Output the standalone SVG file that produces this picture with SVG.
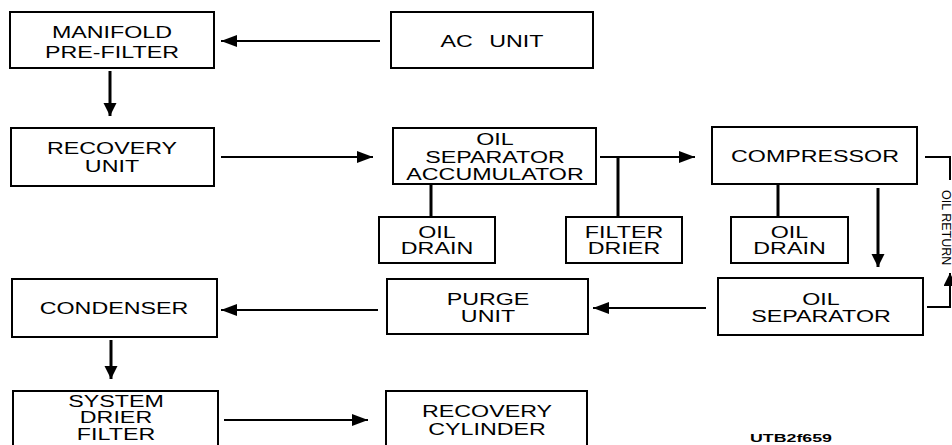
<svg xmlns="http://www.w3.org/2000/svg" width="952" height="445" viewBox="0 0 952 445">
<defs>
<style>
.box{fill:#fff;stroke:#000;stroke-width:2}
.t{font-family:"Liberation Sans",Arial,sans-serif;font-size:16.5px;text-anchor:middle;fill:#000}
.ln{fill:none;stroke:#000;stroke-width:2}
.lv{fill:none;stroke:#000;stroke-width:3}
.small{font-family:"Liberation Sans",Arial,sans-serif;font-size:12.5px;fill:#000}
.code{font-family:"Liberation Sans",Arial,sans-serif;font-size:11px;font-weight:bold;fill:#000}
</style>
<marker id="ah" markerUnits="userSpaceOnUse" markerWidth="17" markerHeight="12" refX="16" refY="6" orient="auto">
<path d="M0,0 L16,6 L0,12 Z" fill="#000"/>
</marker>
<marker id="av" markerUnits="userSpaceOnUse" markerWidth="14" markerHeight="14" refX="13" refY="6.5" orient="auto">
<path d="M0,0 L13,6.5 L0,13 Z" fill="#000"/>
</marker>
</defs>
<rect width="952" height="445" fill="#fff"/>

<g id="connectors">
<path class="ln" d="M380,41 H221" marker-end="url(#ah)"/>
<path class="lv" d="M110,71 V116" marker-end="url(#av)"/>
<path class="ln" d="M221,157 H373" marker-end="url(#ah)"/>
<path class="ln" d="M600,157 H695" marker-end="url(#ah)"/>
<path class="lv" d="M618,157 V217"/>
<path class="lv" d="M431,184 V217"/>
<path class="lv" d="M778,184 V217"/>
<path class="lv" d="M878,188 V267" marker-end="url(#av)"/>
<path class="ln" d="M925,157 H950 V180"/>
<path class="ln" d="M927,307 H950 V273" marker-end="url(#av)"/>
<path class="ln" d="M706,308 H593" marker-end="url(#ah)"/>
<path class="ln" d="M378,310 H221" marker-end="url(#ah)"/>
<path class="lv" d="M111,340 V379" marker-end="url(#av)"/>
<path class="ln" d="M224,420 H368" marker-end="url(#ah)"/>
<text class="small" transform="translate(942 190) rotate(90)">OIL RETURN</text>
</g>

<g id="manifold">
<rect class="box" x="10" y="12" width="204" height="56"/>
<text class="t" transform="translate(112 38) scale(1.41 1)">MANIFOLD</text>
<text class="t" transform="translate(112 58) scale(1.41 1)">PRE-FILTER</text>
</g>
<g id="acunit">
<rect class="box" x="391" y="12" width="202" height="56"/>
<text class="t" style="word-spacing:7px" transform="translate(492 47) scale(1.41 1)">AC UNIT</text>
</g>
<g id="recovery-unit">
<rect class="box" x="11" y="128" width="203" height="58"/>
<text class="t" transform="translate(112 154) scale(1.41 1)">RECOVERY</text>
<text class="t" transform="translate(112 172) scale(1.41 1)">UNIT</text>
</g>
<g id="accumulator">
<rect class="box" x="393" y="128" width="203" height="56"/>
<text class="t" transform="translate(495 145) scale(1.41 1)">OIL</text>
<text class="t" transform="translate(495 163) scale(1.41 1)">SEPARATOR</text>
<text class="t" transform="translate(495 180) scale(1.41 1)">ACCUMULATOR</text>
</g>
<g id="compressor">
<rect class="box" x="712" y="127" width="205" height="57"/>
<text class="t" transform="translate(815 162) scale(1.41 1)">COMPRESSOR</text>
</g>
<g id="oil-drain-1">
<rect class="box" x="379" y="217" width="116" height="46"/>
<text class="t" transform="translate(437 238) scale(1.41 1)">OIL</text>
<text class="t" transform="translate(437 254) scale(1.41 1)">DRAIN</text>
</g>
<g id="filter-drier">
<rect class="box" x="566" y="217" width="116" height="46"/>
<text class="t" transform="translate(624 238) scale(1.41 1)">FILTER</text>
<text class="t" transform="translate(624 254) scale(1.41 1)">DRIER</text>
</g>
<g id="oil-drain-2">
<rect class="box" x="731" y="217" width="117" height="46"/>
<text class="t" transform="translate(789.5 238) scale(1.41 1)">OIL</text>
<text class="t" transform="translate(789.5 254) scale(1.41 1)">DRAIN</text>
</g>
<g id="condenser">
<rect class="box" x="12" y="279" width="205" height="58"/>
<text class="t" transform="translate(114 314) scale(1.41 1)">CONDENSER</text>
</g>
<g id="purge-unit">
<rect class="box" x="387" y="279" width="201" height="55"/>
<text class="t" transform="translate(488 305) scale(1.41 1)">PURGE</text>
<text class="t" transform="translate(488 322) scale(1.41 1)">UNIT</text>
</g>
<g id="oil-separator">
<rect class="box" x="718" y="278" width="205" height="57"/>
<text class="t" transform="translate(821 305) scale(1.41 1)">OIL</text>
<text class="t" transform="translate(821 322) scale(1.41 1)">SEPARATOR</text>
</g>
<g id="system-drier-filter">
<rect class="box" x="13" y="391" width="205" height="62"/>
<text class="t" transform="translate(116 407) scale(1.41 1)">SYSTEM</text>
<text class="t" transform="translate(116 423) scale(1.41 1)">DRIER</text>
<text class="t" transform="translate(116 440) scale(1.41 1)">FILTER</text>
</g>
<g id="recovery-cylinder">
<rect class="box" x="386" y="391" width="201" height="62"/>
<text class="t" transform="translate(487 417) scale(1.41 1)">RECOVERY</text>
<text class="t" transform="translate(487 435) scale(1.41 1)">CYLINDER</text>
</g>
<text class="code" x="750" y="442" textLength="82" lengthAdjust="spacingAndGlyphs">UTB2f659</text>
</svg>
